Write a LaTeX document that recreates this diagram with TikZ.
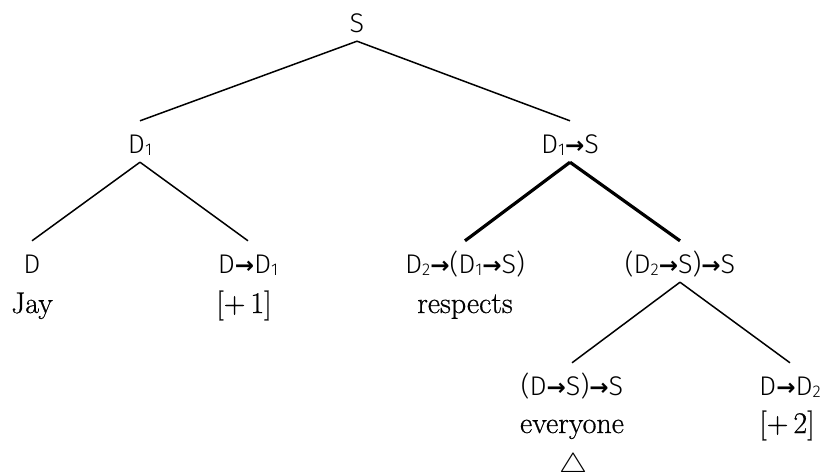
\documentclass[tikz,border=0pt]{standalone}
\usepackage{graphicx}
\usepackage{fontspec}
\setsansfont{Fira Sans Light}
\newfontfamily\arrowfont{DejaVu Sans}
\newfontfamily\wordfont{Latin Modern Roman}[FakeBold=0.6]
\newcommand{\arr}{{\arrowfont\bfseries\fontsize{23}{23}\selectfont →}}
\newcommand{\lsub}[1]{\raisebox{-2pt}{\fontsize{17}{17}\selectfont #1}}

\tikzset{
  cat/.style={font=\sffamily\fontsize{27}{30}\selectfont, inner sep=4pt,
    text height=28pt, text depth=5pt, anchor=base},
  word/.style={font=\wordfont\fontsize{30}{34}\selectfont, inner sep=0pt, anchor=base},
  branch/.style={line width=1.5pt},
  headbranch/.style={line width=3.2pt},
}

\begin{document}
\begin{tikzpicture}[x=1pt,y=-1pt]
\useasboundingbox (0,0) rectangle (825,474);

% categories
\node[cat] (s) at (357,32) {S};
\node[cat] (d1) at (140,153) {D\lsub{1}};
\node[cat] (d1s) at (570,153) {D\lsub{1}\arr S};
\node[cat] (d) at (32,273) {D};
\node[cat] (dd1) at (248,273) {D\arr D\lsub{1}};
\node[cat] (verb) at (465,273) {D\lsub{2}\arr(D\lsub{1}\arr S)};
\node[cat] (obj) at (680,273) {(D\lsub{2}\arr S)\arr S};
\node[cat] (qp) at (572,395) {(D\arr S)\arr S};
\node[cat] (dd2) at (790,395) {D\arr D\lsub{2}};

% words
\node[word] (jay) at (32,313) {Jay};
\node[word] (plus1) at (244,313) {[+\,1]};
\node[word] (respects) at (465,313) {respects};
\node[word] (everyone) at (572,433) {everyone};
\node[word] (plus2) at (787,433) {[+\,2]};
\node[word] (tri) at (573,472) {\resizebox{28pt}{19pt}{$\triangle$}};

% branches
\draw[branch] (s.south) -- (d1.north);
\draw[branch] (s.south) -- (d1s.north);
\draw[branch] (d1.south) -- (d.north);
\draw[branch] (d1.south) -- (dd1.north);
\draw[headbranch] (d1s.south) -- (verb.north);
\draw[headbranch] (d1s.south) -- (obj.north);
\draw[branch] (obj.south) -- (qp.north);
\draw[branch] (obj.south) -- (dd2.north);
\end{tikzpicture}
\end{document}
